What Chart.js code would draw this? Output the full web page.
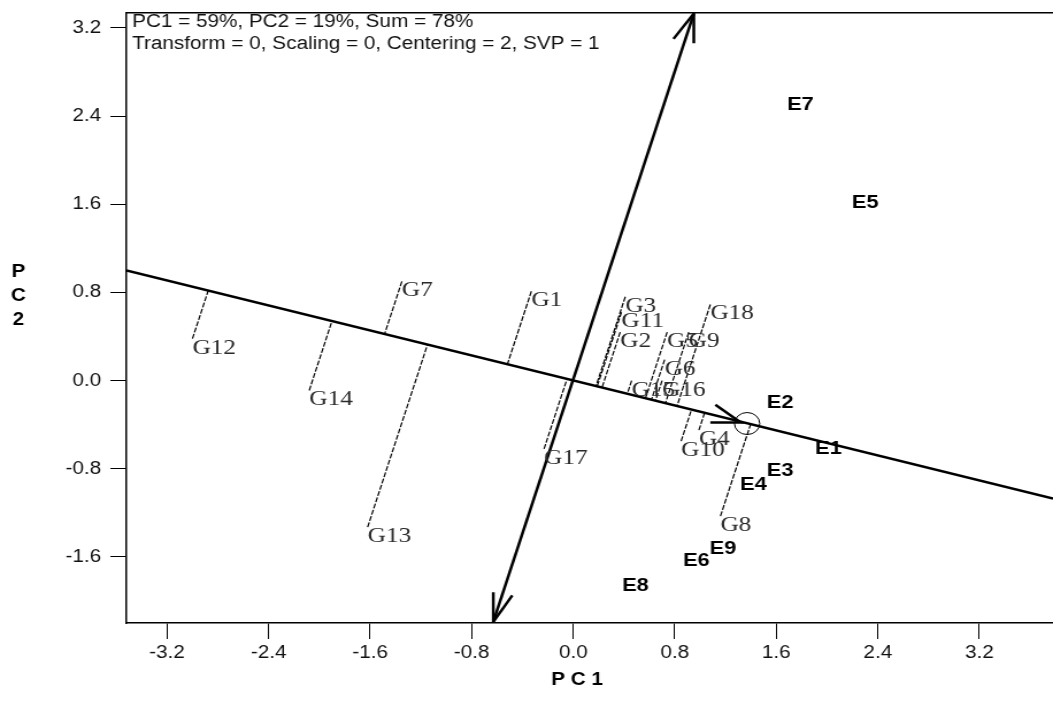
<!DOCTYPE html>
<html lang="en">
<head>
<meta charset="UTF-8">
<title>GGE biplot - mean vs stability</title>
<script src="https://cdn.jsdelivr.net/npm/chart.js"></script>
<style>
  html, body { margin: 0; padding: 0; background: #fff; overflow: hidden; }
  canvas { display: block; }
</style>
</head>
<body>
<!-- the original picture is stretched sideways, so the canvas is drawn narrow and widened by css -->
<canvas id="biplot" width="916" height="717" style="width:1053px;height:717px"></canvas>
<script>
// axis ranges and tick labels
const xMin = -3.52, xMax = 3.78;
const yMin = -2.2, yMax = 3.335;
const xTicks = [-3.2, -2.4, -1.6, -0.8, 0, 0.8, 1.6, 2.4, 3.2];
const yTicks = [-1.6, -0.8, 0, 0.8, 1.6, 2.4, 3.2];

// genotype scores (PC1, PC2)
const genoNames = ['G1', 'G2', 'G3', 'G4', 'G5', 'G6', 'G7', 'G8', 'G9', 'G10', 'G11', 'G12', 'G13', 'G14', 'G15', 'G16', 'G17', 'G18'];
const genoX = [-0.33, 0.37, 0.41, 0.99, 0.74, 0.72, -1.35, 1.16, 0.91, 0.85, 0.38, -3.00, -1.62, -2.08, 0.46, 0.70, -0.23, 1.08];
const genoY = [0.81, 0.44, 0.76, -0.45, 0.44, 0.19, 0.90, -1.23, 0.44, -0.55, 0.62, 0.38, -1.33, -0.09, 0.00, 0.00, -0.62, 0.69];

// environment scores
const envNames = ['E1', 'E2', 'E3', 'E4', 'E5', 'E6', 'E7', 'E8', 'E9'];
const envX = [2.01, 1.63, 1.63, 1.42, 2.30, 0.97, 1.79, 0.49, 1.18];
const envY = [-0.60, -0.19, -0.80, -0.93, 1.63, -1.62, 2.52, -1.85, -1.51];

// average environment and the AEC axes
const aveEnv = [1.37, -0.39];
const aecAbscissa = [[-3.52, 1.00], [3.78, -1.07]];
const aecOrdinate = [[-0.63, -2.19], [0.95, 3.33]];
const arrowTop = [[0.79, 3.10], [0.95, 3.33], [0.95, 3.06]];
const arrowBottom = [[-0.63, -1.92], [-0.63, -2.19], [-0.48, -1.95]];
const arrowAve = [[1.08, -0.38], [1.32, -0.38], [1.12, -0.22]];

const summary = ['PC1 = 59%, PC2 = 19%, Sum = 78%', 'Transform = 0, Scaling = 0, Centering = 2, SVP = 1'];

const toPts = arr => arr.map(p => ({ x: p[0], y: p[1] }));
const thick = { showLine: true, borderColor: '#000', borderWidth: 2.5, pointRadius: 0, fill: false };

// projection of each genotype onto the AEC abscissa
const len = Math.hypot(aveEnv[0], aveEnv[1]);
const ux = aveEnv[0] / len, uy = aveEnv[1] / len;
const projSets = genoNames.map((n, i) => {
  const d = genoX[i] * ux + genoY[i] * uy;
  return {
    label: n,
    data: [{ x: genoX[i], y: genoY[i] }, { x: d * ux, y: d * uy }],
    showLine: true, borderColor: '#000', borderWidth: 1.2, borderDash: [5, 1.5], pointRadius: 0
  };
});

const biplotText = {
  id: 'biplotText',
  afterDatasetsDraw(chart) {
    const { ctx, chartArea, scales: { x, y } } = chart;
    ctx.save();
    // genotype labels
    ctx.font = '22px "Liberation Serif", "Times New Roman", serif';
    ctx.fillStyle = '#2a2a2a';
    ctx.textAlign = 'left';
    ctx.textBaseline = 'alphabetic';
    genoNames.forEach((n, i) => {
      ctx.fillText(n, x.getPixelForValue(genoX[i]), y.getPixelForValue(genoY[i]) + 15);
    });
    // environment labels
    ctx.font = 'bold 19px "Liberation Sans", Arial, sans-serif';
    ctx.fillStyle = '#000';
    ctx.textAlign = 'center';
    envNames.forEach((n, i) => {
      ctx.fillText(n, x.getPixelForValue(envX[i]), y.getPixelForValue(envY[i]) + 7);
    });
    // summary in the corner
    ctx.font = '18px "Liberation Sans", Arial, sans-serif';
    ctx.fillStyle = '#111';
    ctx.textAlign = 'left';
    ctx.textBaseline = 'middle';
    summary.forEach((t, k) => ctx.fillText(t, chartArea.left + 5, chartArea.top + 9 + k * 22));
    // axis titles
    ctx.fillStyle = '#000';
    ctx.font = 'bold 18px "Liberation Sans", Arial, sans-serif';
    ctx.textAlign = 'center';
    ctx.fillText('P C 1', 502, 680);
    ['P', 'C', '2'].forEach((c, k) => ctx.fillText(c, 16, 272 + k * 24));
    ctx.restore();
  }
};

const tickFont = { family: '"Liberation Sans", Arial, sans-serif', size: 18 };

new Chart(document.getElementById('biplot'), {
  type: 'scatter',
  data: {
    datasets: [
      ...projSets,
      { label: 'AEC abscissa', data: toPts(aecAbscissa), ...thick },
      { label: 'AEC ordinate', data: toPts(aecOrdinate), ...thick },
      { label: 'arrow top', data: toPts(arrowTop), ...thick },
      { label: 'arrow bottom', data: toPts(arrowBottom), ...thick },
      { label: 'arrow ave', data: toPts(arrowAve), ...thick },
      {
        label: 'average environment', data: [{ x: aveEnv[0], y: aveEnv[1] }],
        pointRadius: 11, pointStyle: 'circle', borderColor: '#000', borderWidth: 1,
        backgroundColor: 'rgba(0,0,0,0)'
      }
    ]
  },
  options: {
    responsive: false,
    devicePixelRatio: 1,
    animation: false,
    // the circle's radius would otherwise push the plot area in from the right
    layout: { padding: 0, autoPadding: false },
    plugins: { legend: { display: false }, tooltip: { enabled: false } },
    scales: {
      x: {
        type: 'linear', position: 'bottom', min: xMin, max: xMax,
        afterBuildTicks: s => { s.ticks = xTicks.map(v => ({ value: v })); },
        afterFit: s => { s.height = 94; s.paddingLeft = 0; s.paddingRight = 0; },
        ticks: { autoSkip: false, maxRotation: 0, padding: 3, color: '#111', font: tickFont, callback: v => v.toFixed(1) },
        grid: { drawOnChartArea: false, drawTicks: true, tickLength: 16, color: '#000', lineWidth: 1 },
        border: { display: true, color: '#000', width: 1.5 }
      },
      xTop: {
        type: 'linear', position: 'top', min: xMin, max: xMax, display: true,
        afterBuildTicks: s => { s.ticks = []; },
        afterFit: s => { s.height = 13; s.paddingLeft = 0; s.paddingRight = 0; },
        ticks: { display: false },
        grid: { display: false, drawTicks: false },
        border: { display: true, color: '#000', width: 1.5 }
      },
      y: {
        type: 'linear', position: 'left', min: yMin, max: yMax,
        afterBuildTicks: s => { s.ticks = yTicks.map(v => ({ value: v })); },
        afterFit: s => { s.width = 110; s.paddingTop = 0; s.paddingBottom = 0; },
        ticks: { autoSkip: false, padding: 8, color: '#111', font: tickFont, callback: v => v.toFixed(1) },
        grid: { drawOnChartArea: false, drawTicks: true, tickLength: 14, color: '#000', lineWidth: 1 },
        border: { display: true, color: '#000', width: 1.5 }
      }
    }
  },
  plugins: [biplotText]
});
</script>
</body>
</html>
